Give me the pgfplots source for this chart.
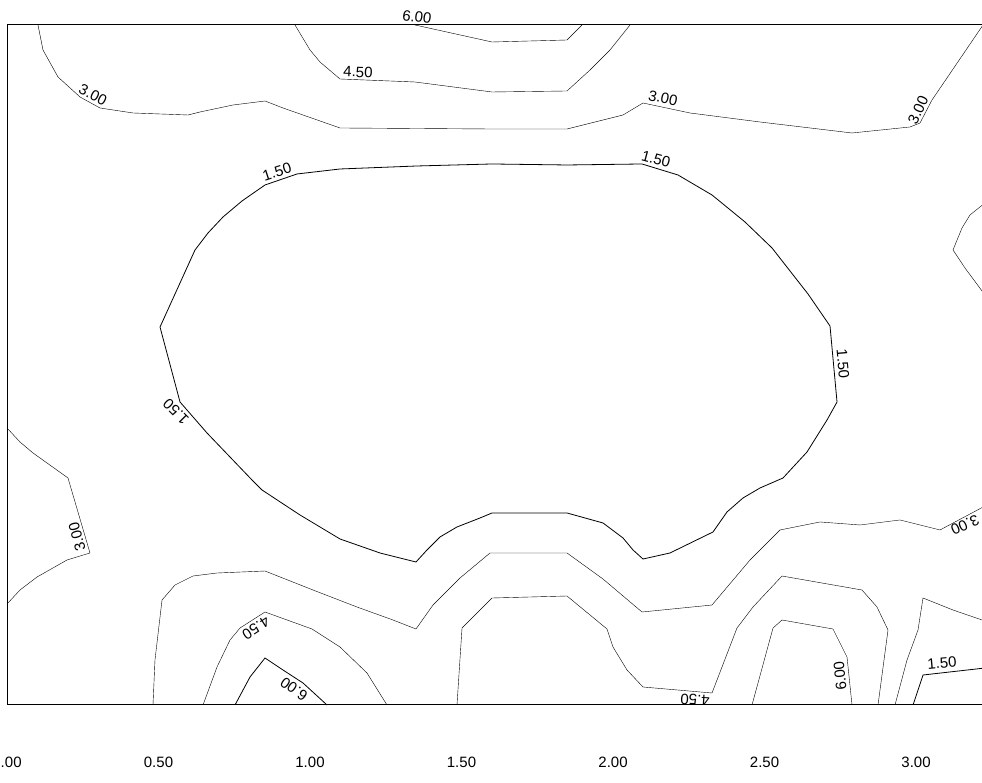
\documentclass[border=0pt]{standalone}
\usepackage{pgfplots}
\pgfplotsset{compat=1.18}
\usepackage{fontspec}
\setmainfont{Liberation Sans}
\begin{document}
\begin{tikzpicture}[lbl/.style={font=\fontsize{15}{18}\selectfont, inner sep=0pt}]
\begin{axis}[
  x=303pt, y=303pt,
  at={(0pt,0pt)}, anchor=south west,
  xmin=0, xmax=3.25, ymin=0, ymax=2.2442,
  enlargelimits=false,
  clip=false,
  axis line style={line width=1pt},
  xtick={0,0.5,1,1.5,2,2.5,3},
  xticklabels={0.00,0.50,1.00,1.50,2.00,2.50,3.00},
  ytick=\empty,
  major tick length=0pt,
  xticklabel style={anchor=center, yshift=-57pt},
  tick label style={font=\fontsize{15}{18}\selectfont},
  /pgf/number format/assume math mode=true,
  cycle list={{black, solid, mark=none, line width=0.8pt}},
]
% top 3.00
\addplot coordinates {(0.1023,2.2442)(0.1188,2.1617)(0.1683,2.0726)(0.2409,2.0066)(0.3069,1.9703)(0.4158,1.9538)(0.5974,1.9472)(0.6370,1.9571)(0.7459,1.9802)(0.8515,1.9934)(0.9109,1.9703)(1.0990,1.9043)(1.5941,1.9010)(1.8482,1.9010)(2.0330,1.9472)(2.0990,1.9868)(2.2541,1.9538)(2.4851,1.9241)(2.7888,1.8878)(2.9802,1.9076)(3.0132,1.9208)(3.0528,1.9967)(3.2211,2.2442)};
% top 4.50
\addplot coordinates {(0.9505,2.2442)(1.0000,2.1617)(1.0330,2.1221)(1.0990,2.0660)(1.3465,2.0561)(1.6007,2.0231)(1.8482,2.0264)(1.9241,2.0957)(1.9901,2.1617)(2.0561,2.2442)};
% top 6.00
\addplot coordinates {(1.3465,2.2442)(1.6007,2.1881)(1.8482,2.1947)(1.8977,2.2442)};
% central 1.50 loop
\addplot coordinates {(0.8515,1.7162)(0.9571,1.7525)(1.0990,1.7690)(1.3531,1.7789)(1.6007,1.7855)(1.8482,1.7822)(2.0957,1.7855)(2.2145,1.7492)(2.3267,1.6832)(2.4356,1.5941)(2.5248,1.5083)(2.6436,1.3564)(2.7162,1.2508)(2.7393,1.0000)(2.7063,0.9406)(2.6403,0.8350)(2.5611,0.7492)(2.4851,0.7162)(2.4290,0.6832)(2.3762,0.6370)(2.3300,0.5710)(2.1881,0.5017)(2.0990,0.4818)(2.0660,0.5116)(2.0330,0.5512)(1.9670,0.6007)(1.8482,0.6337)(1.6007,0.6337)(1.5611,0.6172)(1.4851,0.5875)(1.4290,0.5545)(1.3861,0.5116)(1.3498,0.4719)(1.2310,0.5017)(1.0990,0.5479)(0.9670,0.6271)(0.8416,0.7096)(0.8086,0.7426)(0.6601,0.8977)(0.5710,1.0000)(0.5050,1.2475)(0.6205,1.5017)(0.6634,1.5578)(0.7129,1.6106)(0.7756,1.6634)(0.8515,1.7162)};
% left 3.00
\addplot coordinates {(0,0.9142)(0.0429,0.8680)(0.0858,0.8317)(0.2013,0.7492)(0.2739,0.5017)(0.1980,0.4785)(0.0990,0.4224)(0.0429,0.3795)(0,0.3333)};
% bottom 3.00
\addplot coordinates {(0.4818,0)(0.4884,0.1485)(0.5116,0.3465)(0.5545,0.3960)(0.6139,0.4257)(0.6931,0.4356)(0.8515,0.4422)(1.0099,0.3795)(1.1551,0.3234)(1.2739,0.2805)(1.3498,0.2508)(1.4059,0.3300)(1.4950,0.4191)(1.5941,0.5017)(1.8482,0.5017)(1.9670,0.4158)(2.0957,0.3069)(2.3267,0.3300)(2.4521,0.4785)(2.5512,0.5776)(2.6832,0.6040)(2.8152,0.5941)(2.9472,0.6106)(3.0792,0.5776)(3.2277,0.6568)};
% bottom-left 4.50
\addplot coordinates {(0.6469,0)(0.6931,0.1254)(0.7360,0.2145)(0.7690,0.2541)(0.8515,0.3069)(1.0066,0.2508)(1.0990,0.1914)(1.1881,0.1056)(1.2541,0)};
% bottom-left 6.00
\addplot coordinates {(0.7525,0)(0.8020,0.0924)(0.8515,0.1551)(0.9109,0.1155)(0.9769,0.0726)(1.0561,0)};
% bottom middle 4.50
\addplot coordinates {(1.4851,0)(1.5017,0.2541)(1.6007,0.3531)(1.8482,0.3597)(1.9802,0.2508)(2.0000,0.1914)(2.0462,0.1155)(2.0990,0.0594)(2.3267,0.0396)(2.4092,0.2541)(2.4620,0.3234)(2.5578,0.4257)(2.8218,0.3795)(2.8713,0.3234)(2.9076,0.2475)(2.8746,0)};
% bottom right 6.00
\addplot coordinates {(2.4587,0)(2.5281,0.2541)(2.5578,0.2805)(2.7261,0.2508)(2.7723,0.1584)(2.7888,0)};
% bottom right 3.00
\addplot coordinates {(2.9307,0)(2.9703,0.1485)(3.0066,0.2475)(3.0231,0.3531)(3.1221,0.3135)(3.2277,0.2772)};
% bottom right 1.50
\addplot coordinates {(2.9901,0)(3.0231,0.0990)(3.2277,0.1221)};
% right edge small contour
\addplot coordinates {(3.2277,1.6568)(3.1782,1.6172)(3.1518,1.5743)(3.1221,1.5017)(3.1617,1.4422)(3.2277,1.3531)};
% labels
\node[lbl, rotate=-8] at (axis cs:1.3531,2.2706) {6.00};
\node[lbl, rotate=-2] at (axis cs:1.1584,2.0891) {4.50};
\node[lbl, rotate=-27] at (axis cs:0.2838,2.0132) {3.00};
\node[lbl, rotate=-12] at (axis cs:2.1650,2.0033) {3.00};
\node[lbl, rotate=65] at (axis cs:3.0066,1.9637) {3.00};
\node[lbl, rotate=18] at (axis cs:0.8911,1.7591) {1.50};
\node[lbl, rotate=-15] at (axis cs:2.1419,1.8020) {1.50};
\node[lbl, rotate=-85] at (axis cs:2.7591,1.1254) {1.50};
\node[lbl, rotate=135] at (axis cs:0.5578,0.9670) {1.50};
\node[lbl, rotate=105] at (axis cs:0.2310,0.5545) {3.00};
\node[lbl, rotate=205] at (axis cs:3.1617,0.5941) {3.00};
\node[lbl, rotate=213] at (axis cs:0.8218,0.2541) {4.50};
\node[lbl, rotate=145] at (axis cs:0.9472,0.0528) {6.00};
\node[lbl, rotate=177] at (axis cs:2.2706,0.0165) {4.50};
\node[lbl, rotate=96] at (axis cs:2.7492,0.0957) {6.00};
\node[lbl, rotate=5] at (axis cs:3.0858,0.1386) {1.50};
\end{axis}
\pgfresetboundingbox
\path[use as bounding box] (-7pt,-78pt) rectangle (975pt,705pt);
\end{tikzpicture}
\end{document}
